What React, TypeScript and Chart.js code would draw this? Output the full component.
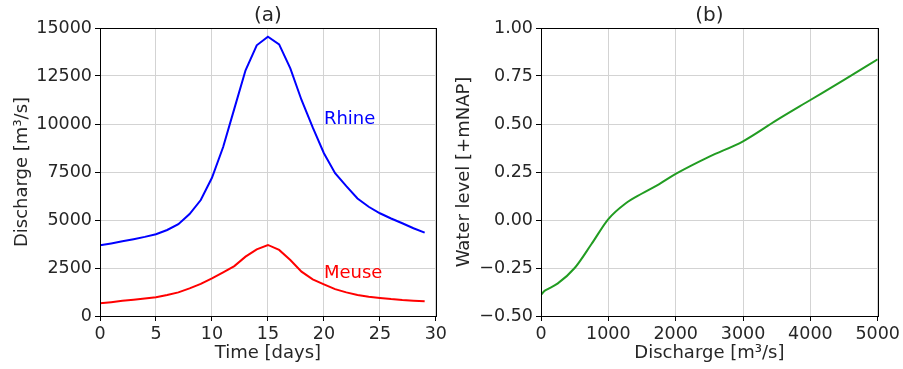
import React, { useEffect, useRef } from "react";
import { Chart, registerables } from "chart.js";

Chart.register(...registerables);

const days = [0, 1, 2, 3, 4, 5, 6, 7, 8, 9, 10, 11, 12, 13, 14, 15, 16, 17, 18, 19, 20, 21, 22, 23, 24, 25, 26, 27, 28, 29];
const rhine = [3680, 3780, 3890, 4000, 4120, 4260, 4480, 4780, 5310, 6040, 7200, 8800, 10800, 12800, 14100, 14550, 14150, 12900, 11250, 9820, 8480, 7440, 6760, 6120, 5690, 5350, 5080, 4830, 4570, 4340];
const meuse = [660, 720, 790, 850, 910, 975, 1090, 1230, 1440, 1670, 1960, 2275, 2600, 3090, 3470, 3700, 3440, 2920, 2310, 1910, 1650, 1400, 1230, 1090, 1000, 940, 880, 833, 800, 770];

const rhineLabel = { text: "Rhine", x: 20, y: 10000 };
const meuseLabel = { text: "Meuse", x: 20, y: 2000 };

const ratingQ = [0, 50, 100, 250, 500, 750, 1000, 1250, 1500, 1750, 2000, 2500, 3000, 3500, 4000, 4500, 5000];
const ratingH = [-0.39, -0.37, -0.36, -0.33, -0.25, -0.125, 0.005, 0.085, 0.138, 0.186, 0.24, 0.33, 0.41, 0.52, 0.625, 0.73, 0.837];

const leftXTicks = [0, 5, 10, 15, 20, 25, 30];
const leftYTicks = [0, 2500, 5000, 7500, 10000, 12500, 15000];
const rightXTicks = [0, 1000, 2000, 3000, 4000, 5000];
const rightYTicks = [-0.5, -0.25, 0, 0.25, 0.5, 0.75, 1.0];

const FONT = "'DejaVu Sans', sans-serif";
const TEXT = "#262626";
const GRID = "#d3d3d3";

function makeDecor(title: string, xTitle: string, yTitle: string, yTitleX: number, labels: { text: string; x: number; y: number; color: string }[]) {
  return {
    id: "decor" + title,
    afterDatasetsDraw(chart: any) {
      const { ctx, chartArea } = chart;
      const xs = chart.scales.x;
      const ys = chart.scales.y;
      ctx.save();
      ctx.strokeStyle = "#000";
      ctx.lineWidth = 1;
      ctx.strokeRect(Math.round(chartArea.left) + 0.5, Math.round(chartArea.top) + 0.5, Math.round(chartArea.right - chartArea.left), Math.round(chartArea.bottom - chartArea.top));
      ctx.font = `18px ${FONT}`;
      ctx.textAlign = "left";
      ctx.textBaseline = "alphabetic";
      for (const l of labels) {
        ctx.fillStyle = l.color;
        ctx.fillText(l.text, xs.getPixelForValue(l.x), ys.getPixelForValue(l.y));
      }
      ctx.fillStyle = TEXT;
      ctx.textAlign = "center";
      ctx.textBaseline = "middle";
      ctx.font = `20px ${FONT}`;
      ctx.fillText(title, (chartArea.left + chartArea.right) / 2, 16);
      ctx.font = `18px ${FONT}`;
      ctx.fillText(xTitle, (chartArea.left + chartArea.right) / 2, 353);
      ctx.translate(yTitleX, (chartArea.top + chartArea.bottom) / 2);
      ctx.rotate(-Math.PI / 2);
      ctx.fillText(yTitle, 0, 0);
      ctx.restore();
    },
  };
}

function axis(min: number, max: number, ticks: number[], fmt: (v: number) => string, fit: (s: any) => void) {
  return {
    type: "linear" as const,
    min,
    max,
    afterBuildTicks: (s: any) => {
      s.ticks = ticks.map((v) => ({ value: v }));
    },
    afterFit: fit,
    grid: { color: GRID, lineWidth: 1, drawTicks: true, tickLength: 5, tickColor: "#000" },
    border: { display: false },
    ticks: {
      color: TEXT,
      font: { family: FONT, size: 17.5 },
      padding: 3,
      maxRotation: 0,
      autoSkip: false,
      callback: (v: any) => fmt(Number(v)),
    },
  };
}

export default function App() {
  const leftRef = useRef<HTMLCanvasElement>(null);
  const rightRef = useRef<HTMLCanvasElement>(null);

  useEffect(() => {
    const left = new Chart(leftRef.current!, {
      type: "line",
      data: {
        datasets: [
          { data: days.map((d, i) => ({ x: d, y: rhine[i] })), borderColor: "#0000ff", borderWidth: 2, pointRadius: 0, tension: 0 },
          { data: days.map((d, i) => ({ x: d, y: meuse[i] })), borderColor: "#ff0000", borderWidth: 2, pointRadius: 0, tension: 0 },
        ],
      },
      options: {
        animation: false,
        responsive: false,
        layout: { padding: { top: 28, right: 14, left: 0, bottom: 0 } },
        plugins: { legend: { display: false }, tooltip: { enabled: false }, title: { display: false } },
        scales: {
          x: axis(0, 30, leftXTicks, (v) => String(v), (s: any) => { s.height = 53; }),
          y: axis(0, 15000, leftYTicks, (v) => String(v), (s: any) => { s.width = 100; }),
        },
      },
      plugins: [makeDecor("(a)", "Time [days]", "Discharge [m³/s]", 22, [
        { ...rhineLabel, color: "#0000ff" },
        { ...meuseLabel, color: "#ff0000" },
      ])],
    });

    const right = new Chart(rightRef.current!, {
      type: "line",
      data: {
        datasets: [
          { data: ratingQ.map((q, i) => ({ x: q, y: ratingH[i] })), borderColor: "#229c22", borderWidth: 2, pointRadius: 0, cubicInterpolationMode: "monotone" },
        ],
      },
      options: {
        animation: false,
        responsive: false,
        layout: { padding: { top: 28, right: 25, left: 0, bottom: 0 } },
        plugins: { legend: { display: false }, tooltip: { enabled: false }, title: { display: false } },
        scales: {
          x: axis(0, 5000, rightXTicks, (v) => String(v), (s: any) => { s.height = 53; }),
          y: axis(-0.5, 1.0, rightYTicks, (v) => v.toFixed(2).replace("-", "\u2212"), (s: any) => { s.width = 91; }),
        },
      },
      plugins: [makeDecor("(b)", "Discharge [m³/s]", "Water level [+mNAP]", 14, [])],
    });

    return () => {
      left.destroy();
      right.destroy();
    };
  }, []);

  return (
    <div style={{ position: "absolute", left: 0, top: 0, width: 903, height: 369, background: "#fff" }}>
      <canvas ref={leftRef} width={450} height={369} style={{ position: "absolute", left: 0, top: 0, width: 450, height: 369 }} />
      <canvas ref={rightRef} width={453} height={369} style={{ position: "absolute", left: 450, top: 0, width: 453, height: 369 }} />
    </div>
  );
}
